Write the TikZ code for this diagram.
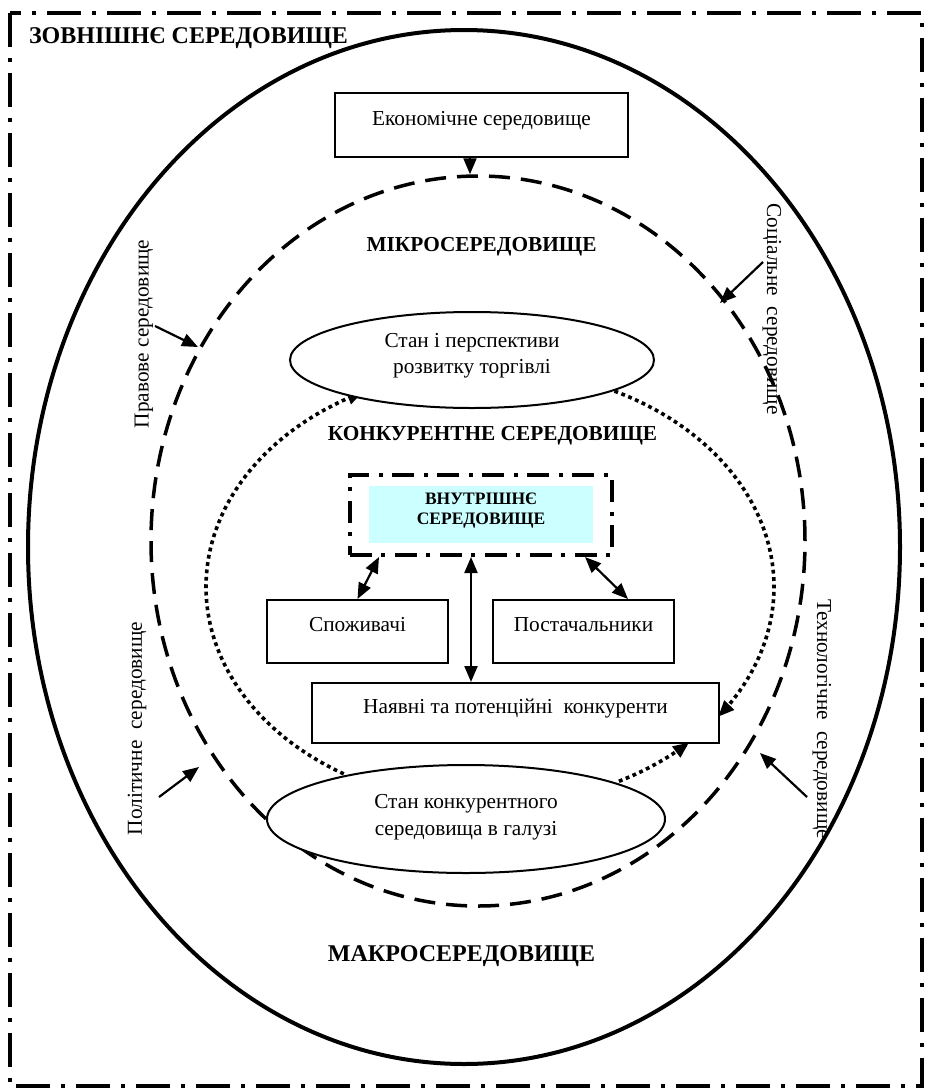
\documentclass[tikz,border=0pt]{standalone}
\usepackage{fontspec}
\setmainfont{Liberation Serif}
\usetikzlibrary{shapes.geometric,arrows.meta}
\definecolor{innercyan}{HTML}{CCFFFF}
\newcommand\bodyfont{\fontsize{21.3pt}{26.5pt}\selectfont}
\newcommand\bighead{\fontsize{24pt}{28pt}\selectfont\bfseries}
\newcommand\midhead{\fontsize{21.3pt}{26pt}\selectfont\bfseries}
\newcommand\innerhead{\fontsize{17.5pt}{20pt}\selectfont\bfseries}
% invisible rule that deepens the last line of a multi-line node
\newcommand\deepstrut[1]{\rule[-#1]{0pt}{#1}}

\begin{document}
\begin{tikzpicture}[x=1pt,y=-1pt,
  >={Triangle[length=16pt,width=13pt]},
  frame/.style={line width=4pt, dash pattern=on 34pt off 11pt on 4pt off 11pt},
  macroenv/.style={draw, ellipse, line width=4pt, inner sep=0pt},
  microenv/.style={draw, ellipse, line width=3.5pt, dash pattern=on 21pt off 11pt, inner sep=0pt},
  compline/.style={line width=3.6pt, dash pattern=on 3.8pt off 3.6pt},
  box/.style={draw, fill=white, rectangle, line width=2pt, inner sep=0pt,
    font=\bodyfont, text height=16pt, text depth=16pt},
  oval/.style={draw, fill=white, ellipse, line width=2pt, inner sep=0pt,
    font=\bodyfont, align=center},
  innerframe/.style={draw, line width=4pt, dash pattern=on 22pt off 9pt on 4pt off 10pt, inner sep=0pt},
  side/.style={font=\bodyfont, inner sep=0pt},
  head/.style={inner sep=0pt, anchor=base},
  arr/.style={line width=2.2pt, ->},
  darr/.style={line width=2.2pt, <->},
]
\useasboundingbox (0,0) rectangle (929,1088);

% outer frame: external environment
\draw[frame] (9.5,12.5) rectangle (921.5,1086);

% macro- and micro-environment borders
\node[macroenv, minimum width=872pt, minimum height=1034pt] (macro) at (464,547) {};
\node[microenv, minimum width=654pt, minimum height=730pt] (micro) at (478,541) {};

% competitive environment: dotted arcs of one ellipse
\draw[compline, ->] plot[smooth, domain=121:243.5, samples=70]
  ({490+284*cos(\x)},{587+218*sin(\x)});
\draw[compline, ->] plot[smooth, domain=-64:36.5, samples=70]
  ({490+284*cos(\x)},{587+218*sin(\x)});
\draw[compline, ->] plot[smooth, domain=63:45.5, samples=15]
  ({490+284*cos(\x)},{587+218*sin(\x)});

% headings
\node[head, font=\bighead] (outerlbl) at (188.5,43.5) {ЗОВНІШНЄ СЕРЕДОВИЩЕ};
\node[head, font=\midhead] (microlbl) at (481.5,251.7) {МІКРОСЕРЕДОВИЩЕ};
\node[head, font=\midhead] (complbl) at (492.5,440) {КОНКУРЕНТНЕ СЕРЕДОВИЩЕ};
\node[head, font=\bighead] (macrolbl) at (461.5,961.7) {МАКРОСЕРЕДОВИЩЕ};

% blocks
\node[box, minimum width=293pt, minimum height=64pt] (econ) at (481.5,125) {Економічне середовище};
\node[oval, minimum width=364pt, minimum height=96pt] (trade) at (472,360)
  {Стан і перспективи\\розвитку торгівлі\deepstrut{13.5pt}};
\node[innerframe, minimum width=262pt, minimum height=80pt] (inner) at (481,515) {};
\node[fill=innercyan, inner sep=0pt, minimum width=224pt, minimum height=57pt,
  align=center, font=\innerhead] (innerlbl) at (481,514.5)
  {ВНУТРІШНЄ\\СЕРЕДОВИЩЕ\deepstrut{12.6pt}};
\node[box, minimum width=181pt, minimum height=63pt] (cons) at (357.5,631.5) {Споживачі};
\node[box, minimum width=181pt, minimum height=63pt] (supp) at (583.5,631.5) {Постачальники};
\node[box, minimum width=407pt, minimum height=60pt] (rivals) at (515.5,713)
  {Наявні та потенційні~ конкуренти};
\node[oval, minimum width=398pt, minimum height=108pt] (state) at (466,819)
  {Стан конкурентного\\середовища в галузі\deepstrut{8pt}};

% links inside the competitive environment
\draw[arr] ([xshift=-11.5pt]econ.south) -- ([xshift=-11.5pt]econ.south |- micro.north);
\draw[darr] ([xshift=-102pt]inner.south) -- (cons.north);
\draw[darr] ([xshift=-10pt]inner.south) -- ([xshift=-10pt]inner.south |- rivals.north);
\draw[darr] ([xshift=104pt]inner.south) -- ([xshift=44.5pt]supp.north);

% factors of the macro-environment
\node[side, rotate=90] (legal) at (144,334) {Правове середовище};
\node[side, rotate=90] (polit) at (137,728.5) {Політичне~ середовище};
\node[side, rotate=-90] (social) at (772,309) {Соціальне~ середовище};
\node[side, rotate=-90] (tech) at (822,719) {Технологічне~ середовище};

\coordinate (legalfrom) at (155,326);
\coordinate (legalto) at (198,347);
\coordinate (politfrom) at (159,797);
\coordinate (politto) at (199,767);
\coordinate (socialfrom) at (763,262);
\coordinate (socialto) at (720,303);
\coordinate (techfrom) at (807,797);
\coordinate (techto) at (760,753);
\draw[arr] (legalfrom) -- (legalto);
\draw[arr] (politfrom) -- (politto);
\draw[arr] (socialfrom) -- (socialto);
\draw[arr] (techfrom) -- (techto);
\end{tikzpicture}
\end{document}
